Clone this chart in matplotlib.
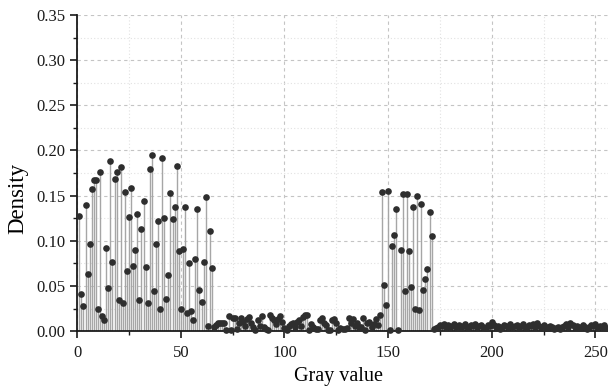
import matplotlib
matplotlib.use("Agg")
import matplotlib.pyplot as plt
from matplotlib.ticker import MultipleLocator, FormatStrFormatter
import numpy as np

# Gray values 1..255
gray = list(range(1, 256))

dens_1_65 = [0.127, 0.041, 0.028, 0.140, 0.063, 0.097, 0.157, 0.167, 0.167, 0.024,
             0.176, 0.017, 0.012, 0.092, 0.048, 0.188, 0.076, 0.168, 0.176, 0.034,
             0.182, 0.031, 0.154, 0.067, 0.126, 0.158, 0.072, 0.090, 0.130, 0.034,
             0.113, 0.144, 0.071, 0.031, 0.180, 0.195, 0.044, 0.097, 0.122, 0.024,
             0.192, 0.125, 0.036, 0.062, 0.153, 0.124, 0.137, 0.183, 0.089, 0.024,
             0.091, 0.137, 0.020, 0.075, 0.022, 0.012, 0.080, 0.135, 0.045, 0.032,
             0.076, 0.148, 0.006, 0.111, 0.070]

dens_66_146 = [0.005, 0.0066, 0.0085, 0.009, 0.0085, 0.0085, 0.001, 0.0166, 0.001, 0.0144,
               0.015, 0.002, 0.0085, 0.015, 0.010, 0.0055, 0.013, 0.016, 0.0085, 0.004,
               0.001, 0.012, 0.006, 0.0166, 0.004, 0.0026, 0.001, 0.0173, 0.015, 0.012,
               0.0077, 0.0137, 0.0166, 0.010, 0.003, 0.001, 0.006, 0.0077, 0.009, 0.0044,
               0.010, 0.012, 0.006, 0.016, 0.0173, 0.0173, 0.001, 0.0074, 0.0048, 0.0026,
               0.0026, 0.012, 0.0144, 0.009, 0.007, 0.001, 0.0015, 0.012, 0.0137, 0.0085,
               0.001, 0.003, 0.0026, 0.0026, 0.003, 0.015, 0.009, 0.0137, 0.006, 0.0085,
               0.0044, 0.004, 0.0144, 0.001, 0.0085, 0.010, 0.0048, 0.0077, 0.013, 0.007,
               0.018]

dens_147_172 = [0.154, 0.051, 0.029, 0.155, 0.001, 0.094, 0.106, 0.135, 0.001, 0.090,
                0.152, 0.044, 0.152, 0.089, 0.049, 0.137, 0.024, 0.150, 0.023, 0.141,
                0.046, 0.058, 0.069, 0.132, 0.105, 0.002]

dens_173_255 = [0.003, 0.005, 0.007, 0.006, 0.008, 0.005, 0.007, 0.004, 0.006, 0.008,
                0.005, 0.007, 0.003, 0.006, 0.008, 0.005, 0.004, 0.007, 0.006, 0.008,
                0.004, 0.006, 0.007, 0.005, 0.003, 0.007, 0.006, 0.010, 0.007, 0.004,
                0.006, 0.002, 0.005, 0.007, 0.006, 0.004, 0.008, 0.005, 0.006, 0.007,
                0.003, 0.006, 0.008, 0.005, 0.004, 0.007, 0.006, 0.008, 0.005, 0.009,
                0.006, 0.004, 0.007, 0.003, 0.005, 0.006, 0.004, 0.002, 0.003, 0.005,
                0.002, 0.004, 0.006, 0.008, 0.005, 0.009, 0.007, 0.004, 0.006, 0.003,
                0.005, 0.007, 0.004, 0.002, 0.005, 0.007, 0.006, 0.008, 0.004, 0.006,
                0.005, 0.007, 0.003]

density = dens_1_65 + dens_66_146 + dens_147_172 + dens_173_255

x_ticks = [0, 50, 100, 150, 200, 250]
y_ticks = [0.00, 0.05, 0.10, 0.15, 0.20, 0.25, 0.30, 0.35]

plt.rcParams['font.family'] = ['Liberation Serif', 'DejaVu Serif']

fig = plt.figure(figsize=(6.08, 3.90), dpi=100)
ax = fig.add_axes([0.127, 0.151, 0.873, 0.8105])

ax.vlines(gray, 0, density, colors='#a6a6a6', linewidth=1.0, zorder=2)
ax.plot(gray, density, 'o', color='#2e2e2e', markersize=4.8, markeredgewidth=0, zorder=3,
        clip_on=False)

ax.set_xlim(0, 256.1)
ax.set_ylim(0, 0.35)
ax.set_xticks(x_ticks)
ax.set_yticks(y_ticks)
ax.yaxis.set_major_formatter(FormatStrFormatter('%.2f'))
ax.xaxis.set_minor_locator(MultipleLocator(25))
ax.yaxis.set_minor_locator(MultipleLocator(0.025))

ax.grid(which='major', linestyle=(0, (3, 3)), color='#c4c4c4', linewidth=0.8, zorder=0)
ax.grid(which='minor', linestyle=(0, (1, 2)), color='#e2e2e2', linewidth=0.8, zorder=0)
ax.set_axisbelow(True)

for s in ['top', 'right']:
    ax.spines[s].set_visible(False)
for s in ['left', 'bottom']:
    ax.spines[s].set_linewidth(1.3)
    ax.spines[s].set_color('#1a1a1a')

ax.tick_params(which='major', direction='out', length=5, width=1.2, labelsize=12,
               colors='#1a1a1a')
ax.tick_params(which='minor', direction='out', length=3, width=1.0, colors='#1a1a1a')
ax.tick_params(axis='x', pad=5)

ax.set_xlabel('Gray value', fontsize=14.5, labelpad=2)
ax.xaxis.set_label_coords(0.492, -0.112)
ax.set_ylabel('Density', fontsize=16.5)
ax.yaxis.set_label_coords(-0.092, 0.42)

fig.savefig('out.png', dpi=100)
